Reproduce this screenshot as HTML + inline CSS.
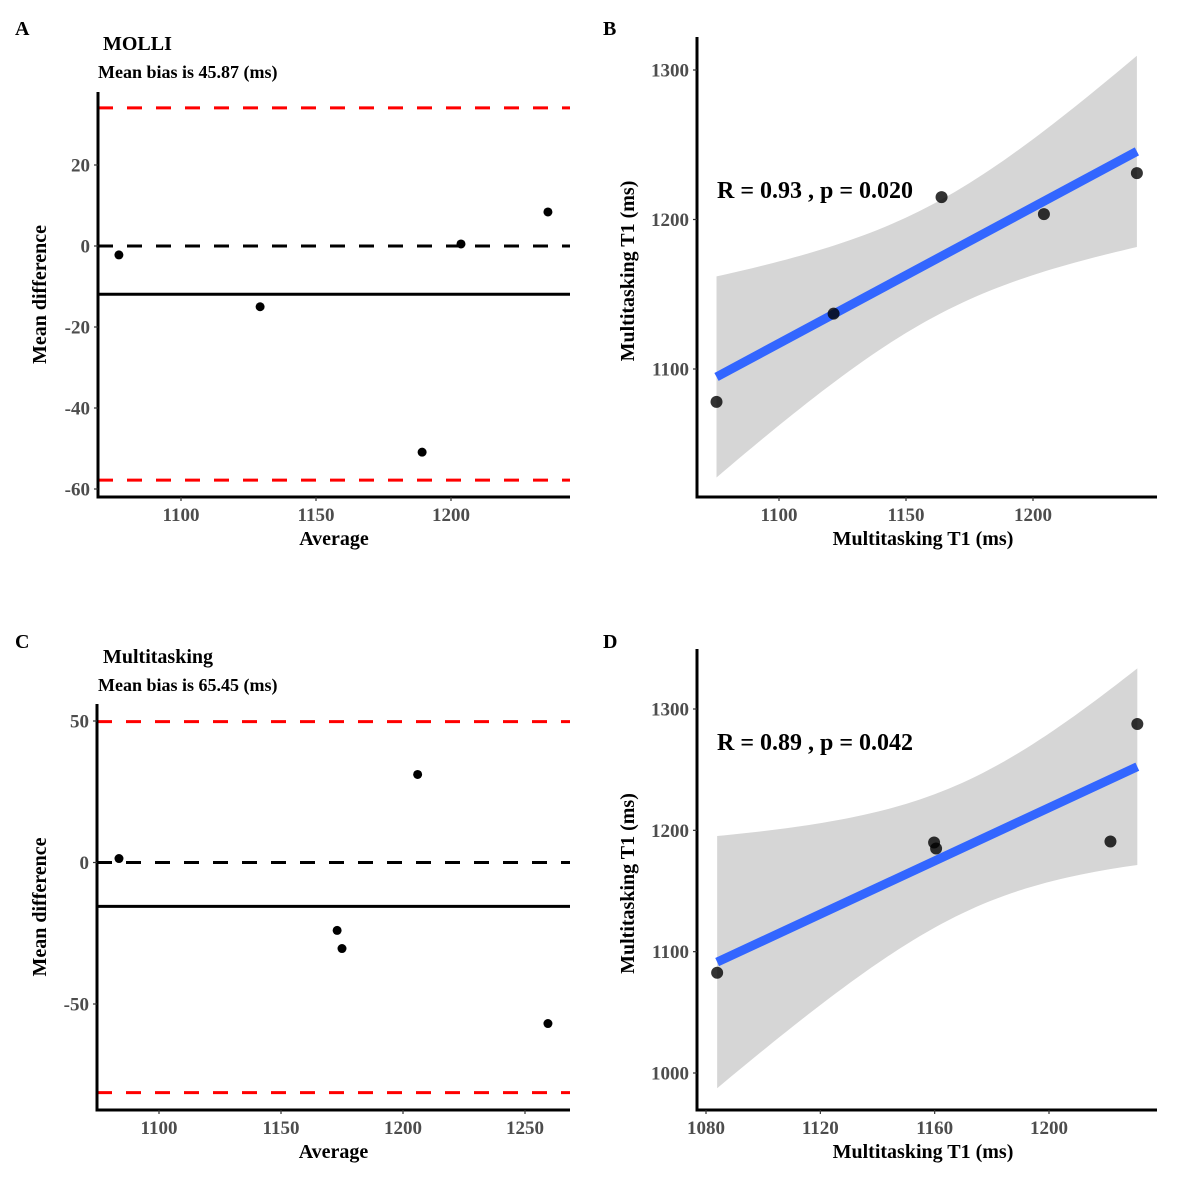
<!DOCTYPE html>
<html><head><meta charset="utf-8"><style>
body{margin:0;background:#fff}
svg text{font-family:"Liberation Serif",serif;font-weight:bold}
</style></head><body>
<svg id="s" width="1182" height="1191" viewBox="0 0 1182 1191" xmlns="http://www.w3.org/2000/svg"></svg>
<script>
// Panel A data (Bland-Altman MOLLI)
const aAvg=[1077,1129.3,1189.3,1203.7,1235.9];
const aDiff=[-2.2,-15,-50.9,0.5,8.4];
const aLines=[34.1,-57.8,-11.9];
const aXTicks=[1100,1150,1200];
const aYTicks=[20,0,-20,-40,-60];
// Panel B data (correlation)
const bX=[1075.4,1121.5,1164,1204.3,1240.9];
const bY=[1078,1137,1215,1203.6,1231];
const bXTicks=[1100,1150,1200];
const bYTicks=[1300,1200,1100];
// Panel C data (Bland-Altman Multitasking)
const cAvg=[1083.6,1206,1173,1175,1259.4];
const cDiff=[1.4,31.1,-24,-30.4,-56.9];
const cLines=[49.8,-81.3,-15.5];
const cXTicks=[1100,1150,1200,1250];
const cYTicks=[50,0,-50];
// Panel D data (correlation)
const dX=[1083.9,1159.8,1160.5,1221.5,1230.9];
const dY=[1082.6,1190,1185,1190.8,1287.6];
const dXTicks=[1080,1120,1160,1200];
const dYTicks=[1300,1200,1100,1000];

const S=document.getElementById('s');
const NS='http://www.w3.org/2000/svg';
function el(tag,attrs,parent,txt){const e=document.createElementNS(NS,tag);for(const k in attrs)e.setAttribute(k,attrs[k]);if(txt!==undefined)e.textContent=txt;(parent||S).appendChild(e);return e;}
function lin(d0,d1,r0,r1){return v=>r0+(v-d0)*(r1-r0)/(d1-d0);}

function axes(g,x0,x1,yTop,yBot,xs,ys,xt,yt){
  const ax=el('line',{x1:x0,y1:yTop,x2:x0,y2:yBot,stroke:'#000','stroke-width':3},g);
  
  const bx=el('line',{x1:x0-1.5,y1:yBot,x2:x1,y2:yBot,stroke:'#000','stroke-width':3},g);
  
  xt.forEach(v=>{const x=xs(v);
    el('line',{x1:x,y1:yBot,x2:x,y2:yBot+4,stroke:'#333','stroke-width':1.2},g);
    const t=el('text',{x:x,y:yBot+24,'text-anchor':'middle','font-size':19,fill:'#4d4d4d'},g,String(v));
    });
  yt.forEach(v=>{const y=ys(v);
    el('line',{x1:x0-4,y1:y,x2:x0,y2:y,stroke:'#333','stroke-width':1.2},g);
    const t=el('text',{x:x0-8,y:y+6.5,'text-anchor':'end','font-size':19,fill:'#4d4d4d'},g,String(v));
    });
}
function label(g,x,y,txt,size,name,rot,anchor){
  const t=el('text',{x:x,y:y,'font-size':size,fill:'#000','text-anchor':anchor||'start'},g,txt);
  if(rot)t.setAttribute('transform','rotate(-90 '+x+' '+y+')');
  
}

function bland(letter,ly,title,bias,avg,diff,lines,xt,yt,xs,ys,x0,x1,yTop,yBot){
  const g=el('g',{});
  label(g,15,ly,letter,20,'panel-letter');
  label(g,103,ly+15,title,20,'panel-title');
  label(g,98,ly+43,bias,18,'mean-bias-subtitle');
  [[lines[0],'red','upper-limit-line'],[lines[1],'red','lower-limit-line']].forEach(([v,c,n])=>{
    const l=el('line',{x1:x0,y1:ys(v),x2:x1,y2:ys(v),stroke:c,'stroke-width':3,'stroke-dasharray':'15 14'},g);
    });
  const z=el('line',{x1:x0,y1:ys(0),x2:x1,y2:ys(0),stroke:'#000','stroke-width':3,'stroke-dasharray':'15 14'},g);
  
  const m=el('line',{x1:x0,y1:ys(lines[2]),x2:x1,y2:ys(lines[2]),stroke:'#000','stroke-width':3},g);
  
  avg.forEach((a,i)=>{const c=el('circle',{cx:xs(a),cy:ys(diff[i]),r:4.5,fill:'#000'},g);
    });
  axes(g,x0,x1,yTop,yBot,xs,ys,xt,yt);
  label(g,(x0+x1)/2,yBot+48,'Average',20,'x-axis-title',false,'middle');
  label(g,46,(yTop+yBot)/2,'Mean difference',20,'y-axis-title',true,'middle');
}

function corr(letter,ly,X,Y,xt,yt,xs,ys,x0,x1,yTop,yBot,ann,annY){
  const g=el('g',{});
  label(g,603,ly,letter,20,'panel-letter');
  const n=X.length,mx=X.reduce((a,b)=>a+b)/n,my=Y.reduce((a,b)=>a+b)/n;
  let sxx=0,sxy=0;X.forEach((x,i)=>{sxx+=(x-mx)**2;sxy+=(x-mx)*(Y[i]-my);});
  const b=sxy/sxx,a=my-b*mx;let sse=0;X.forEach((x,i)=>{sse+=(Y[i]-a-b*x)**2;});
  const s=Math.sqrt(sse/(n-2)),t=3.182;
  const lo=Math.min(...X),hi=Math.max(...X);const up=[],dn=[];
  for(let k=0;k<=60;k++){const x=lo+(hi-lo)*k/60,yh=a+b*x,se=s*Math.sqrt(1/n+(x-mx)**2/sxx);
    up.push(xs(x)+','+ys(yh+t*se));dn.unshift(xs(x)+','+ys(yh-t*se));}
  const band=el('polygon',{points:up.concat(dn).join(' '),fill:'#d6d6d6'},g);
  
  const rl=el('line',{x1:xs(lo),y1:ys(a+b*lo),x2:xs(hi),y2:ys(a+b*hi),stroke:'#3366ff','stroke-width':9},g);
  
  X.forEach((x,i)=>{const c=el('circle',{cx:xs(x),cy:ys(Y[i]),r:6,fill:'#000','fill-opacity':0.8},g);
    });
  axes(g,x0,x1,yTop,yBot,xs,ys,xt,yt);
  label(g,717,annY,ann,24,'correlation-annotation');
  label(g,(x0+x1)/2-4,yBot+48,'Multitasking T1 (ms)',20,'x-axis-title',false,'middle');
  label(g,634,(yTop+yBot)/2+4,'Multitasking T1 (ms)',20,'y-axis-title',true,'middle');
}

bland('A',35,'MOLLI','Mean bias is 45.87 (ms)',aAvg,aDiff,aLines,aXTicks,aYTicks,
  lin(1100,1200,181,451),lin(0,-60,246,489),98,570,92,497);
corr('B',35,bX,bY,bXTicks,bYTicks,lin(1100,1200,779,1033),lin(1300,1100,70,369),697,1157,37,497,'R = 0.93 , p = 0.020',198);
bland('C',648,'Multitasking','Mean bias is 65.45 (ms)',cAvg,cDiff,cLines,cXTicks,cYTicks,
  lin(1100,1250,159,525),lin(50,-50,721,1004),97,570,704,1110);
corr('D',648,dX,dY,dXTicks,dYTicks,lin(1080,1200,706,1049),lin(1300,1000,709,1073),697,1157,649,1110,'R = 0.89 , p = 0.042',750);
</script>
</body></html>
